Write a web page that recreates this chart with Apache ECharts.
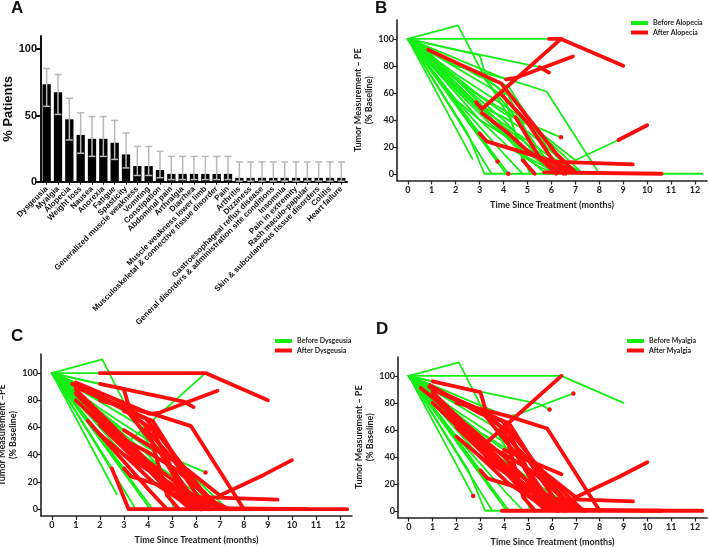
<!DOCTYPE html>
<html><head><meta charset="utf-8">
<script src="https://cdn.jsdelivr.net/npm/echarts@6/dist/echarts.min.js"></script>
<style>html,body{margin:0;padding:0;background:#fff}#c{width:709px;height:547px}</style>
</head><body><div id="c"></div>
<script>
// ---- Panel A data ----
const aeCategories = ['Dysgeusia','Myalgia','Alopecia','Weight loss','Nausea','Anorexia','Fatigue','Spasticity','Generalized muscle weakness','Vomiting','Constipation','Abdominal pain','Arthralgia','Diarrhea','Muscle weakness lower limb','Musculoskeletal & connective tissue disorder','Pain','Arthritis','Dizziness','Gastroesophageal reflux disease','General disorders & administration site conditions','Insomnia','Pain in extremity','Rash maculo-papular','Skin & subcutaneous tissue disorders','Colitis','Heart failure'];
const aePercent = [73.5,67.6,47.1,35.3,32.4,32.4,29.4,20.6,11.8,11.8,8.8,5.9,5.9,5.9,5.9,5.9,5.9,2.9,2.9,2.9,2.9,2.9,2.9,2.9,2.9,2.9,2.9];
const aeCILower = [56.9,50.8,31.5,21.5,19.1,19.1,16.8,10.4,4.7,4.7,3.0,1.6,1.6,1.6,1.6,1.6,1.6,0.5,0.5,0.5,0.5,0.5,0.5,0.5,0.5,0.5,0.5];
const aeCIUpper = [85.5,80.9,63.0,52.1,49.2,49.2,46.3,36.8,26.6,26.6,22.9,19.1,19.1,19.1,19.1,19.1,19.1,14.9,14.9,14.9,14.9,14.9,14.9,14.9,14.9,14.9,14.9];
const pctTicks = [0,50,100];

// ---- Panels B-D: tumour measurements per patient [months, % baseline] ----
const monthTicks = [0,1,2,3,4,5,6,7,8,9,10,11,12];
const tumorTicks = [0,20,40,60,80,100];
const p01 = [[0,100],[2,100],[5.9,100],[6.4,100],[9,80]];
const p02 = [[0,100],[2.1,110],[3.05,77],[4.3,40],[5.1,0]];
const p03 = [[0,100],[2.85,53],[3.1,48],[6.4,100]];
const p04 = [[0,100],[2,92],[5.5,79],[5.9,75]];
const p05 = [[0,100],[1,93],[4.1,70],[4.5,71],[6.9,87]];
const p06 = [[0,100],[0.85,92],[3.9,67],[6.2,15],[7,1]];
const p07 = [[0,100],[2,80],[4.2,70],[5.8,61],[8,0]];
const p08 = [[0,100],[3,58],[5.5,31],[7,10],[8.8,25],[10,36]];
const p09 = [[0,100],[1,88],[4,35],[6,9],[9.4,7]];
const p10 = [[0,100],[1,85],[4.5,20],[5.7,1],[10.6,0]];
const p11 = [[0,100],[2.5,30],[3.2,0],[3.9,0],[12.3,0]];
const p12 = [[0,100],[2.7,11]];
const p13 = [[0,100],[3,30],[3.3,24],[6.1,9],[7,1]];
const p14 = [[0,100],[3.5,0]];
const p15 = [[0,100],[3.75,9]];
const p16 = [[0,100],[2,70],[4,45],[6.4,27]];
const p17 = [[0,100],[4.2,0]];
const p18 = [[0,100],[1,90],[3,75],[4.5,42],[5.5,12],[6.2,0]];
const p19 = [[0,100],[1,85],[3,50],[4,32],[5,12],[6.3,0]];
const p20 = [[0,100],[2,62],[3.5,36],[5,16],[6,2]];
const p21 = [[0,100],[3.1,45],[4.2,30],[5,17],[6.5,0]];
const p22 = [[0,100],[3.9,59],[5,38],[6.1,9],[6.6,0]];
const p23 = [[0,100],[1,90],[3.2,72],[4,60],[4.8,10],[5.3,0]];
const p24 = [[0,100],[0.9,93],[3,72],[4.2,65],[5.8,20],[6.8,3],[7.3,0]];
const p25 = [[0,100],[1,96],[3,88],[3.3,70],[4.2,58],[5,30],[6,5]];
const p26 = [[0,100],[2,55],[3,40],[4.2,20],[5.5,5],[6.2,0]];
const p27 = [[0,100],[0.5,91],[2,70],[4,40],[5.5,12],[6.5,2]];
const p28 = [[0,100],[1.5,65],[3,35],[4,15],[4.8,0]];
const p29 = [[0,100],[2,74],[4.5,45],[6,22],[7.2,2]];
const p30 = [[0,100],[4,30],[5,18],[6,8],[7,2]];
const p31 = [[0,100],[2.8,52],[4,37],[5.2,22],[6,12],[7.2,2]];
const p32 = [[0,100],[4.1,0]];
const p33 = [[0,100],[1,80],[2.5,55],[4,42],[5.1,30],[6.8,5],[7.4,0]];
const p34 = [[0,100],[3,40],[4.6,22],[5.9,10],[6.6,3]];
const patients = [p01,p02,p03,p04,p05,p06,p07,p08,p09,p10,p11,p12,p13,p14,p15,p16,p17,p18,p19,p20,p21,p22,p23,p24,p25,p26,p27,p28,p29,p30,p31,p32,p33,p34];
// index of the measurement at which the adverse event started (-1 = never)
const onsetAlopecia  = [2,-1,1,2,2,1,-1,4,3,3,-1,-1,1,-1,1,3,1,3,-1,-1,1,1,4,-1,-1,-1,-1,-1,-1,-1,-1,-1,-1,3];
const onsetDysgeusia = [1,-1,-1,1,1,1,1,1,1,1,1,-1,1,-1,-1,3,-1,1,1,1,1,1,1,2,2,1,-1,1,-1,2,-1,-1,1,1];
const onsetMyalgia   = [-1,-1,1,3,4,1,1,2,1,1,3,1,1,-1,-1,2,-1,1,1,1,1,1,1,1,1,1,1,-1,2,1,-1,-1,1,1];

const GREEN = '#16ee16', RED = '#ff0c0c';
const FA = 'Liberation Sans', FB = 'Lato';

function patientSeries(gi, onset, label) {
  const out = [];
  patients.forEach((pts, i) => {
    const k = onset[i];
    const g = k < 0 ? pts : pts.slice(0, k + 1);
    if (g.length > 1) out.push({
      type: 'line', name: 'Before ' + label, xAxisIndex: gi, yAxisIndex: gi, data: g,
      showSymbol: false, symbol: 'none', silent: true, animation: false, z: 2,
      lineStyle: {color: GREEN, width: 1.8, cap: 'round', join: 'round'}, itemStyle: {color: GREEN}
    });
    if (k >= 0) {
      const r = pts.slice(k);
      out.push({
        type: 'line', name: 'After ' + label, xAxisIndex: gi, yAxisIndex: gi, data: r,
        showSymbol: r.length === 1, symbol: 'circle', symbolSize: 4.5, silent: true, animation: false, z: 3,
        lineStyle: {color: RED, width: 3.8, cap: 'round', join: 'round'}, itemStyle: {color: RED}
      });
    }
  });
  return out;
}

const axisCol = '#222';
function timeX(gi) {
  return {
    type: 'value', gridIndex: gi, min: -0.45, max: 12.5,
    axisLine: {show: true, onZero: false, lineStyle: {color: axisCol, width: 1.6}},
    axisTick: {show: true, customValues: monthTicks, length: 4, lineStyle: {color: axisCol, width: 1.2}},
    axisLabel: {customValues: monthTicks, fontSize: 9, fontWeight: 'bold', color: axisCol, margin: 5, fontFamily: FB},
    splitLine: {show: false},
    name: 'Time Since Treatment (months)', nameLocation: 'middle', nameGap: 20,
    nameTextStyle: {fontSize: 9, fontWeight: 'bold', color: axisCol, fontFamily: FB}
  };
}
function tumorY(gi, title) {
  return {
    type: 'value', gridIndex: gi, min: -5, max: 114,
    axisLine: {show: true, onZero: false, lineStyle: {color: axisCol, width: 1.6}},
    axisTick: {show: true, customValues: tumorTicks, length: 4, lineStyle: {color: axisCol, width: 1.2}},
    axisLabel: {customValues: tumorTicks, fontSize: 9, fontWeight: 'bold', color: axisCol, margin: 3, fontFamily: FB},
    splitLine: {show: false},
    name: title + '\n(% Baseline)', nameLocation: 'middle', nameGap: 21, nameRotate: 90,
    nameTextStyle: {fontSize: 9, fontWeight: 'bold', color: axisCol, fontFamily: FB, lineHeight: 11}
  };
}
function legendFor(label, left, top) {
  return {
    data: [{name: 'Before ' + label}, {name: 'After ' + label}],
    orient: 'vertical', left: left, top: top, itemWidth: 17, itemHeight: 4, itemGap: 0.5,
    icon: 'rect', selectedMode: false, padding: 0,
    textStyle: {fontSize: 7, fontWeight: 'bold', color: '#222', fontFamily: FB, lineHeight: 9}
  };
}

const chart = echarts.init(document.getElementById('c'), null, {renderer: 'canvas'});
const letter = (t, l, tp) => ({text: t, left: l, top: tp, padding: 0, textStyle: {fontSize: 17, fontWeight: 'bold', color: '#111', fontFamily: FA}});

const option = {
  animation: false,
  backgroundColor: '#fff',
  title: [letter('A', 11, 0), letter('B', 375, 0), letter('C', 11, 328), letter('D', 376, 321)],
  legend: [legendFor('Alopecia', 631, 18.5), legendFor('Dysgeusia', 275, 336.5), legendFor('Myalgia', 627, 336.5)],
  grid: [
    {left: 41, top: 36, width: 306, height: 145.7, containLabel: false, outerBoundsMode: 'none'},
    {left: 397, top: 20, width: 310, height: 160.5, containLabel: false, outerBoundsMode: 'none'},
    {left: 41, top: 354, width: 311, height: 162, containLabel: false, outerBoundsMode: 'none'},
    {left: 398, top: 357, width: 309, height: 160.5, containLabel: false, outerBoundsMode: 'none'}
  ],
  xAxis: [
    {type: 'category', gridIndex: 0, data: aeCategories,
     axisLine: {lineStyle: {color: '#111', width: 2}},
     axisTick: {show: true, alignWithLabel: true, length: 3, lineStyle: {color: '#111'}},
     axisLabel: {rotate: 45, interval: 0, hideOverlap: false, fontSize: 8, fontWeight: 'bold', color: '#111', fontFamily: FA, margin: 6}},
    timeX(1), timeX(2), timeX(3)
  ],
  yAxis: [
    {type: 'value', gridIndex: 0, min: 0, max: 110,
     axisLine: {show: true, lineStyle: {color: '#111', width: 2}},
     axisTick: {show: true, customValues: pctTicks, length: 5, lineStyle: {color: '#111', width: 2}},
     axisLabel: {customValues: pctTicks, fontSize: 11, fontWeight: 'bold', color: '#111', fontFamily: FA, margin: 4},
     splitLine: {show: false},
     name: '% Patients', nameLocation: 'middle', nameRotate: 90, nameGap: 19,
     nameTextStyle: {fontSize: 13, fontWeight: 'bold', color: '#111', fontFamily: FA}},
    tumorY(1, 'Tumor Measurement \u2013 PE'), tumorY(2, 'Tumor Measurement \u2013PE'), tumorY(3, 'Tumor Measurement \u2013 PE')
  ],
  series: [
    {type: 'bar', xAxisIndex: 0, yAxisIndex: 0, data: aePercent, barWidth: 8.3, itemStyle: {color: '#000'}, silent: true, z: 2},
    {type: 'custom', xAxisIndex: 0, yAxisIndex: 0, silent: true, z: 3,
     data: aeCategories.map((c, i) => [i, aeCILower[i], aeCIUpper[i]]),
     renderItem: (params, api) => {
       const x = api.value(0);
       const lo = api.coord([x, api.value(1)]);
       const hi = api.coord([x, api.value(2)]);
       const w = 3.5, st = {stroke: '#b8b8b8', lineWidth: 1.5};
       return {type: 'group', children: [
         {type: 'line', shape: {x1: lo[0], y1: lo[1], x2: hi[0], y2: hi[1]}, style: st},
         {type: 'line', shape: {x1: hi[0] - w, y1: hi[1], x2: hi[0] + w, y2: hi[1]}, style: st},
         {type: 'line', shape: {x1: lo[0] - w, y1: lo[1], x2: lo[0] + w, y2: lo[1]}, style: st}
       ]};
     }},
    ...patientSeries(1, onsetAlopecia, 'Alopecia'),
    ...patientSeries(2, onsetDysgeusia, 'Dysgeusia'),
    ...patientSeries(3, onsetMyalgia, 'Myalgia')
  ]
};
chart.setOption(option);
</script></body></html>
